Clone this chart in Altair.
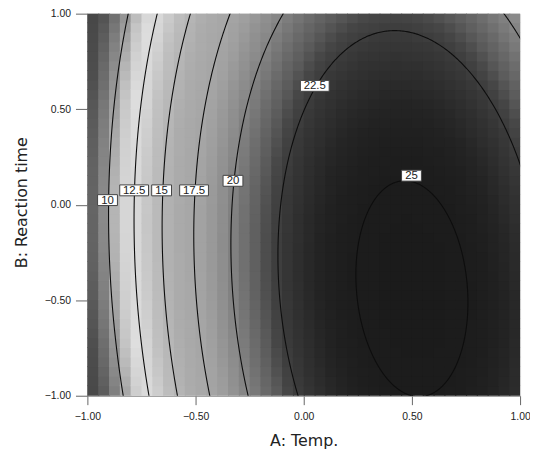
import numpy as np
import pandas as pd
import altair as alt

# ---- values -----------------------------------------------------------
# fitted quadratic response surface (read off the contour positions)
surface_peak = [25.53]                 # maximum response
surface_center = [0.50, -0.44]         # A, B position of the maximum
surface_quad = [-8.03, -1.687, -0.94]  # coefficients of dA^2, dB^2, dA*dB
n_cells = 40                           # grid cells per axis

contour_levels = [10, 12.5, 15, 17.5, 20, 22.5, 25]

label_text = ["10", "12.5", "15", "17.5", "20", "22.5", "25"]
label_a = [-0.907, -0.784, -0.657, -0.507, -0.327, 0.051, 0.498]
label_b = [0.024, 0.075, 0.075, 0.075, 0.125, 0.622, 0.152]

tick_values = [-1.0, -0.5, 0.0, 0.5, 1.0]

gray_domain = [5, 7.5, 8.7, 9.9, 11, 12, 13, 14, 15, 16, 17.5, 18.3, 19,
               19.7, 20.4, 21, 21.6, 22.1, 22.6, 23.1, 23.5, 24, 24.5, 25, 25.6]
gray_level = [60, 78, 110, 152, 198, 222, 212, 192, 182, 172, 166, 160, 149,
              138, 122, 106, 90, 70, 58, 50, 44, 36, 31, 28, 27]

# ---- tables --------------------------------------------------------------
peak = surface_peak[0]
a0, b0 = surface_center
q11, q22, q12 = surface_quad


def response(a, b):
    d = a - a0
    u = b - b0
    return peak + q11 * d * d + q22 * u * u + q12 * d * u


edges = np.linspace(-1, 1, n_cells + 1)
overlap = 0.005  # small overlap so neighbouring cells leave no seams
rows = []
for i in range(n_cells):
    for j in range(n_cells):
        ac = (edges[i] + edges[i + 1]) / 2
        bc = (edges[j] + edges[j + 1]) / 2
        rows.append({"a0": edges[i], "a1": min(1.0, edges[i + 1] + overlap),
                     "b0": edges[j], "b1": min(1.0, edges[j + 1] + overlap),
                     "value": response(ac, bc)})
grid_df = pd.DataFrame(rows)

theta = np.linspace(0, 2 * np.pi, 1441)
crows = []
for lev in contour_levels:
    c = lev - peak
    cs, sn = np.cos(theta), np.sin(theta)
    q = q11 * cs * cs + q22 * sn * sn + q12 * cs * sn
    r = np.sqrt(c / q)
    for k in range(len(theta)):
        crows.append({"level": lev, "idx": k, "a": a0 + r[k] * cs[k], "b": b0 + r[k] * sn[k]})
contour_df = pd.DataFrame(crows)

label_df = pd.DataFrame({"text": label_text, "a": label_a, "b": label_b})

gray_range = ["#%02x%02x%02x" % (g, g, g) for g in gray_level]
gray_scale = alt.Scale(domain=gray_domain, range=gray_range, type="linear", interpolate="rgb")

x_scale = alt.Scale(domain=[-1, 1], nice=False, zero=False)
y_scale = alt.Scale(domain=[-1, 1], nice=False, zero=False)

x_axis = alt.Axis(values=tick_values, format=".2f", title="A: Temp.", grid=False,
                  titleFont="DejaVu Sans", titleFontSize=16, titleFontWeight="normal",
                  titleColor="#222", titleX=218, titleY=50.5, titleBaseline="alphabetic",
                  titleAlign="center", labelFont="Liberation Sans", labelFontSize=10.5,
                  labelColor="#222", labelFlush=False, labelBaseline="middle",
                  labelPadding=12, tickSize=9, tickColor="#666", domainColor="#888")
y_axis = alt.Axis(values=tick_values, format=".2f", title="B: Reaction time", grid=False,
                  titleFont="DejaVu Sans", titleFontSize=16, titleFontWeight="normal",
                  titleColor="#222", titleAngle=-90, titleX=-61, titleY=190,
                  titleBaseline="alphabetic", titleAlign="center",
                  labelFont="Liberation Sans", labelFontSize=10.5, labelColor="#222",
                  labelPadding=5, tickSize=12, tickColor="#666", domainColor="#888")

heat = alt.Chart(grid_df).mark_rect(opacity=1, strokeWidth=0).encode(
    x=alt.X("a0:Q", scale=x_scale, axis=x_axis),
    x2="a1:Q",
    y=alt.Y("b0:Q", scale=y_scale, axis=y_axis),
    y2="b1:Q",
    color=alt.Color("value:Q", scale=gray_scale, legend=None),
)

lines = alt.Chart(contour_df).mark_line(clip=True, color="#0d0d0d", strokeWidth=1.1).encode(
    x=alt.X("a:Q", scale=x_scale, axis=x_axis),
    y=alt.Y("b:Q", scale=y_scale, axis=y_axis),
    detail="level:N",
    order="idx:Q",
)

boxes_short = alt.Chart(label_df).transform_filter("length(datum.text) <= 2").mark_rect(
    fill="white", stroke="#444", strokeWidth=1, opacity=1,
    xOffset=-10, x2Offset=10, yOffset=-5.5, y2Offset=5.5,
).encode(
    x=alt.X("a:Q", scale=x_scale, axis=x_axis), x2="a:Q",
    y=alt.Y("b:Q", scale=y_scale, axis=y_axis), y2="b:Q",
)
boxes_long = alt.Chart(label_df).transform_filter("length(datum.text) > 2").mark_rect(
    fill="white", stroke="#444", strokeWidth=1, opacity=1,
    xOffset=-14.5, x2Offset=14.5, yOffset=-5.5, y2Offset=5.5,
).encode(
    x=alt.X("a:Q", scale=x_scale, axis=x_axis), x2="a:Q",
    y=alt.Y("b:Q", scale=y_scale, axis=y_axis), y2="b:Q",
)
texts = alt.Chart(label_df).mark_text(
    font="Liberation Sans", fontSize=11.5, color="#222", baseline="middle", align="center", dy=0.5
).encode(
    x=alt.X("a:Q", scale=x_scale, axis=x_axis),
    y=alt.Y("b:Q", scale=y_scale, axis=y_axis),
    text="text:N",
)

chart = alt.layer(heat, lines, boxes_short, boxes_long, texts).properties(
    width=436, height=385,
    autosize=alt.AutoSizeParams(type="none"),
    padding={"left": 80, "top": 4, "right": 10, "bottom": 54},
).configure_view(stroke="#888", strokeWidth=1).configure(background="white")

chart.save("out.html", embed_options={"renderer": "svg", "actions": False})
